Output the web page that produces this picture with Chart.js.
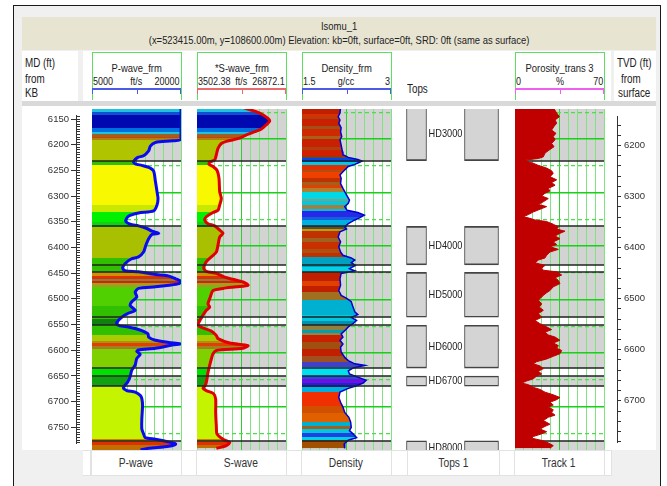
<!DOCTYPE html>
<html><head><meta charset="utf-8">
<script src="https://cdn.jsdelivr.net/npm/chart.js@4.4.1/dist/chart.umd.min.js"></script>
<style>
html,body{margin:0;padding:0;background:#fff;}
body{width:667px;height:486px;position:relative;overflow:hidden;font-family:'Liberation Sans',Arial,sans-serif;color:#222;}
.a{position:absolute;}
.t{position:absolute;white-space:nowrap;}
.t span{display:inline-block;transform:scaleX(0.82);}
canvas{position:absolute;}
</style></head><body>
<div class="a" style="left:13px;top:5px;width:646px;height:490px;border:1px solid #1a1a1a;background:#f0f0f0"></div>
<div class="a" style="left:22px;top:17px;width:634px;height:33px;background:#e8e4d2"></div>
<div class="a" style="left:22px;top:51px;width:56px;height:50px;background:#fff"></div>
<div class="a" style="left:83px;top:51px;width:528px;height:50px;background:#fff"></div>
<div class="a" style="left:614px;top:51px;width:42px;height:50px;background:#fff"></div>
<div class="a" style="left:22px;top:101px;width:634px;height:5px;background:#d9d9d9"></div>
<div class="a" style="left:22px;top:106px;width:634px;height:344px;background:#fff"></div>
<div class="a" style="left:83px;top:450px;width:529px;height:26px;background:#e2e2e2"></div>
<script>
// ---------- data ----------
const depthMin = 6143.5, depthMax = 6781.2;

const wellName = 'Isomu_1';
const wellInfo = '(x=523415.00m, y=108600.00m) Elevation: kb=0ft, surface=0ft, SRD: 0ft (same as surface)';

const topsNames = ['HD3000','HD4000','HD5000','HD6000','HD6700','HD8000'];
const topsTop   = [6140, 6363, 6449, 6548, 6643, 6764];
const topsBase  = [6240, 6435, 6533, 6628, 6662, 6790];

const trackTitles    = ['P-wave_frm','*S-wave_frm','Density_frm','Porosity_trans 3'];
const trackUnits     = ['ft/s','ft/s','g/cc','%'];
const trackMinLabels = ['5000','3502.38','1.5','0'];
const trackMaxLabels = ['20000','26872.1','3','70'];
const trackMin = [5000, 3502.38, 1.5, 0];
const trackMax = [20000, 26872.1, 3, 70];
const footerNames = ['P-wave','S-wave','Density','Tops 1','Track 1'];

const pwDepth = [6141,6143,6200,6203,6206,6213,6222,6231,6234,6242,
  6246,6249,6254,6260,6279,6298,6311,6323,6334,6338,
  6344,6353,6359,6362,6367,6372,6376,6378,6386,6398,
  6411,6420,6424,6433,6441,6446,6448,6453,6456,6461,
  6466,6470,6473,6476,6479,6486,6495,6504,6511,6520,
  6526,6533,6539,6545,6549,6551,6554,6558,6564,6570,
  6576,6580,6583,6585,6591,6594,6597,6602,6610,6622,
  6632,6644,6654,6665,6670,6673,6679,6685,6698,6723,
  6742,6751,6758,6761,6767,6770,6774,6778,6781];
const pwValue = [15900,20000,20000,18520,15690,14830,14550,13690,12720,11990,
  12280,13400,14830,15400,15690,15960,16130,15960,15400,12840,
  11140,10680,11430,12840,14260,15110,16250,15110,14550,14090,
  13690,12840,11600,10570,10160,10570,12840,15690,17950,19100,
  20000,19660,17950,15690,12840,12280,12550,11700,11430,12280,
  11020,10000,9430,9140,9720,11140,12280,13400,14430,14550,
  15690,17950,20000,18520,15690,12840,12550,13130,12550,12280,
  11700,11430,11020,10280,10850,12280,13130,13400,13520,13400,
  13400,13690,13980,15690,18240,19100,17950,14550,13180];

const swDepth = [6141,6151,6161,6166,6173,6181,6186,6192,6198,6204,
  6208,6217,6229,6239,6243,6247,6251,6258,6273,6298,
  6311,6323,6333,6337,6345,6351,6358,6362,6370,6376,
  6383,6398,6411,6420,6429,6441,6447,6451,6458,6462,
  6467,6473,6476,6479,6483,6495,6508,6514,6520,6529,
  6542,6548,6553,6559,6567,6573,6581,6586,6591,6595,
  6601,6611,6623,6636,6648,6659,6666,6670,6676,6686,
  6711,6736,6751,6761,6767,6773,6778];
const swValue = [15581,19957,22146,22583,21708,20396,18645,16457,14706,11205,
  9892,9016,8579,8141,6828,6653,7704,8754,9279,9454,
  9892,9454,9016,7704,5953,5515,6391,8141,9454,10330,
  9454,9016,8579,7266,5953,5253,5953,8579,10767,12955,
  15581,16894,13830,10330,7704,7003,6391,6828,5953,5078,
  4028,3765,5078,7266,8579,9016,12080,16894,15581,8579,
  7704,7266,6828,6391,6128,5778,5078,5953,7879,8404,
  8404,8579,8754,10330,12080,11205,8579];

const rhoDepth = [6141,6151,6158,6164,6170,6179,6186,6195,6201,6211,
  6223,6229,6234,6238,6241,6243,6247,6251,6261,6267,
  6273,6283,6292,6298,6304,6314,6320,6326,6333,6337,
  6342,6347,6351,6358,6364,6368,6373,6383,6392,6401,
  6411,6417,6422,6426,6431,6436,6442,6446,6451,6461,
  6473,6483,6492,6498,6504,6514,6523,6528,6533,6539,
  6545,6551,6558,6564,6570,6576,6583,6589,6598,6608,
  6614,6620,6623,6628,6633,6639,6645,6651,6656,6661,
  6666,6673,6683,6692,6701,6711,6720,6729,6739,6745,
  6751,6758,6763,6770,6778];
const rhoValue = [2.15,2.14,2.11,2.14,2.12,2.16,2.15,2.17,2.14,2.16,
  2.18,2.19,2.28,2.44,2.51,2.47,2.39,2.28,2.19,2.14,
  2.16,2.15,2.19,2.22,2.25,2.30,2.28,2.22,2.26,2.44,
  2.55,2.47,2.39,2.28,2.22,2.25,2.14,2.11,2.15,2.12,
  2.15,2.19,2.33,2.39,2.33,2.40,2.30,2.39,2.16,2.14,
  2.15,2.12,2.16,2.26,2.33,2.36,2.39,2.44,2.33,2.42,
  2.36,2.28,2.22,2.16,2.19,2.14,2.19,2.15,2.16,2.22,
  2.28,2.39,2.56,2.36,2.28,2.30,2.44,2.58,2.53,2.42,
  2.28,2.14,2.12,2.15,2.19,2.22,2.29,2.32,2.33,2.30,
  2.36,2.42,2.28,2.21,2.22];

const phiDepth = [6141,6151,6158,6164,6170,6176,6183,6189,6195,6201,
  6208,6214,6220,6226,6233,6236,6239,6242,6245,6249,
  6254,6259,6264,6270,6276,6281,6286,6292,6297,6301,
  6306,6311,6317,6322,6326,6331,6336,6341,6345,6348,
  6351,6354,6359,6364,6368,6372,6376,6381,6386,6392,
  6397,6401,6406,6411,6417,6422,6426,6431,6436,6441,
  6445,6448,6454,6459,6464,6470,6476,6483,6487,6492,
  6497,6501,6508,6514,6520,6526,6533,6539,6545,6551,
  6556,6561,6566,6570,6576,6581,6586,6591,6595,6601,
  6606,6611,6616,6620,6624,6629,6634,6639,6643,6648,
  6652,6656,6659,6664,6668,6673,6678,6683,6687,6692,
  6697,6701,6706,6711,6716,6720,6726,6733,6737,6742,
  6747,6751,6756,6759,6764,6768,6773,6778];
const phiValue = [30.1,32.8,34.9,31.5,32.8,30.7,28.8,32.2,30.1,31.5,
  28.8,30.7,27.0,23.6,22.3,18.4,7.9,10.5,14.4,18.4,
  24.9,28.8,30.1,27.5,32.8,28.8,31.5,26.2,27.5,23.6,
  21.0,26.2,22.3,18.4,24.9,19.7,14.4,10.5,6.6,11.8,
  15.7,24.9,30.1,34.1,32.8,39.3,35.4,31.5,35.4,30.1,
  32.8,27.5,34.1,27.5,24.9,23.6,18.4,15.7,23.6,21.0,
  22.3,32.8,36.7,31.5,34.1,35.4,30.1,27.5,24.9,22.3,
  20.2,18.4,21.0,19.1,22.3,18.4,21.0,15.7,19.7,24.9,
  28.8,23.6,26.2,31.5,35.4,30.1,34.1,32.8,36.7,35.4,
  30.1,24.9,17.0,14.4,19.7,22.3,18.4,21.0,17.0,14.4,
  9.2,5.2,10.5,14.4,19.7,23.6,30.1,35.4,32.8,27.5,
  30.1,26.2,30.1,28.8,31.5,26.2,22.3,27.5,23.6,19.7,
  24.9,21.0,14.4,13.1,22.3,26.2,30.1,27.5];

// colour-fill logs (depth of band top, colour)
const elasticColourTop = [6140,6149,6154,6179,6186,6191,6195,6198,6201,6241,
  6248,6323,6336,6354,6364,6423,6449,6456,6461,6466,
  6469,6476,6511,6536,6548,6567,6578,6581,6586,6592,
  6629,6645,6662,6761,6767,6772];
const elasticColour = ['#20c0e0','#1050d0','#0008b0','#0070e0','#20c0e0','#a06020','#d04000','#b08010','#b0c400','#30c000',
  '#f8f800','#c8e800','#00f000','#10d010','#a8c000','#30c000','#d09000','#e03000','#808040','#e02000',
  '#a0a020','#50d000','#30c000','#108010','#30c000','#a8cc00','#b09010','#e04000','#a08020','#80d000',
  '#00e000','#10a010','#c4f400','#d08000','#e03000','#c07000'];
const densityColourTop = [6140,6152,6158,6163,6175,6180,6194,6199,6214,6220,
  6232,6236,6243,6249,6258,6262,6272,6280,6285,6292,
  6299,6311,6316,6323,6330,6334,6346,6351,6362,6368,
  6371,6385,6392,6405,6412,6420,6439,6449,6465,6475,
  6486,6501,6529,6540,6548,6556,6562,6567,6580,6592,
  6605,6617,6626,6642,6648,6656,6664,6673,6698,6712,
  6729,6737,6742,6750,6757,6762];
const densityColour = ['#c02000','#d83000','#b04010','#c82000','#a05018','#d02800','#a86018','#c82000','#b04010','#d02000',
  '#804020','#0048e8','#00c8e8','#e03000','#b05010','#f04000','#c03000','#a06020','#e04000','#b08030',
  '#00d8e8','#80a080','#00c8e0','#a08040','#00c0e0','#2828e8','#1060e0','#00b0e0','#505040','#c0a000',
  '#c03000','#a06020','#c83000','#b05010','#c03000','#00a0c0','#00d0e8','#c02000','#e04000','#c02000',
  '#a07020','#00b0d0','#00c8e0','#0090b0','#908040','#00a0b0','#a08040','#c82000','#a05010','#c02000',
  '#a05020','#4040c8','#00e0f0','#2050e0','#7010e0','#2020e0','#00b0e0','#f03000','#d05000','#e06000',
  '#00b0d0','#a06020','#00c8e0','#2040e0','#00d0e8','#a05000'];

// ---------- layout / style ----------
const FONT = "'Liberation Sans',Arial,sans-serif";
Chart.defaults.font.family = FONT;
Chart.defaults.color = '#333';
const trackLeft = [92, 197, 302, 515];
const TW = 89;
const barColors = ['#4b5be6', '#e86a6a', '#4b5be6', '#f060f0'];

function el(cls, style, text, align) {
  const d = document.createElement('div');
  d.className = cls; d.style.cssText = style;
  if (text != null) {
    const s = document.createElement('span');
    s.textContent = text;
    s.style.transformOrigin = align === 'center' ? '50% 50%' : (align === 'right' ? '100% 50%' : '0 50%');
    d.style.textAlign = align || 'left';
    d.appendChild(s);
  }
  document.body.appendChild(d); return d;
}
function mkCanvas(left, top, w, h) {
  const c = document.createElement('canvas');
  c.width = w; c.height = h;
  c.style.left = left + 'px'; c.style.top = top + 'px';
  c.style.width = w + 'px'; c.style.height = h + 'px';
  document.body.appendChild(c); return c;
}

// title band
el('t', 'left:22px;width:634px;top:19px;line-height:14px;font-size:11.5px', wellName, 'center');
el('t', 'left:22px;width:634px;top:33px;line-height:14px;font-size:11.5px', wellInfo, 'center');
// side header boxes
[['MD (ft)', 25, 56], ['from', 25, 72], ['KB', 25, 86], ['TVD (ft)', 617, 56], ['from', 621, 72], ['surface', 618, 86], ['Tops', 407, 82]]
  .forEach(([s, x, y]) => el('t', `left:${x}px;top:${y}px;line-height:14px;font-size:12px`, s, 'left'));

// header boxes
trackTitles.forEach((title, k) => {
  const L = trackLeft[k];
  el('a', `left:${L}px;top:52px;width:${TW-1}px;height:47px;border:1px solid #5fdf5f;border-bottom:none;background:#fff`);
  el('t', `left:${L}px;width:${TW}px;top:61px;line-height:14px;font-size:11.5px`, title, 'center');
  el('t', `left:${L+1}px;top:75px;line-height:13px;font-size:11px`, trackMinLabels[k], 'left');
  el('t', `left:${L}px;width:${TW}px;top:75px;line-height:13px;font-size:11px`, trackUnits[k], 'center');
  el('t', `left:${L}px;width:${TW-1}px;top:75px;line-height:13px;font-size:11px`, trackMaxLabels[k], 'right');
  el('a', `left:${L}px;top:88px;width:${TW}px;height:2px;background:${barColors[k]}`);
  [0, Math.round(TW/2), TW-1].forEach(dx => el('a', `left:${L+dx}px;top:89px;width:1px;height:5px;background:${barColors[k]}`));
});
// footer boxes
[[83,90],[92,181],[182,196],[197,286],[287,301],[302,391],[392,407],[408,499],[500,514],[515,604],[605,611]]
  .forEach(([a,b]) => el('a', `left:${a}px;top:451px;width:${b-a}px;height:24px;background:#fff`));
const footerCenters = [136, 241, 346, 453, 559];
footerNames.forEach((n, i) => el('t', `left:${footerCenters[i]-50}px;width:100px;top:456px;line-height:14px;font-size:12.5px;color:#333`, n, 'center'));

// ---------- helpers ----------
function bandGradient(chart, tops, colours) {
  const {ctx, chartArea, scales} = chart;
  if (!chartArea || !scales.y) return colours[0];
  const y = scales.y, y0 = chartArea.top, y1 = chartArea.bottom;
  const g = ctx.createLinearGradient(0, y0, 0, y1);
  const frac = d => Math.min(1, Math.max(0, (y.getPixelForValue(d) - y0) / (y1 - y0)));
  for (let i = 0; i < tops.length; i++) {
    const a = frac(tops[i]);
    const b = frac(i + 1 < tops.length ? tops[i + 1] : depthMax + 10);
    g.addColorStop(a, colours[i]); g.addColorStop(b, colours[i]);
  }
  return g;
}
function withClip(chart, fn) {
  const {ctx, chartArea: a} = chart;
  ctx.save(); ctx.beginPath(); ctx.rect(a.left, a.top, a.width, a.height); ctx.clip();
  fn(ctx, a); ctx.restore();
}
function drawBands(chart) {
  withClip(chart, (ctx, a) => {
    const y = chart.scales.y;
    ctx.fillStyle = '#d3d3d3';
    topsTop.forEach((t, i) => {
      const p0 = y.getPixelForValue(t), p1 = y.getPixelForValue(topsBase[i]);
      ctx.fillRect(a.left, p0, a.width, p1 - p0);
    });
  });
}
function drawBoundaries(chart) {
  withClip(chart, (ctx, a) => {
    const y = chart.scales.y;
    ctx.strokeStyle = '#222'; ctx.lineWidth = 1.6;
    topsTop.concat(topsBase).forEach(d => {
      const p = Math.round(y.getPixelForValue(d));
      if (p <= a.top || p >= a.bottom) return;
      ctx.beginPath(); ctx.moveTo(a.left, p); ctx.lineTo(a.right, p); ctx.stroke();
    });
  });
}
const decor = (linesOnTop) => ({
  id: 'decor',
  beforeDraw: chart => drawBands(chart),
  beforeDatasetsDraw: chart => { if (!linesOnTop) drawBoundaries(chart); },
  afterDatasetsDraw: chart => { if (linesOnTop) drawBoundaries(chart); }
});
const depthScale = (extra) => Object.assign({
  type: 'linear', reverse: true, min: depthMin, max: depthMax
}, extra);

// ---------- log tracks ----------
function makeTrack(k, depth, values, line, fillColour, linesOnTop) {
  const cv = mkCanvas(trackLeft[k] - 1, 108, TW + 2, 343);
  return new Chart(cv, {
    type: 'line',
    data: { datasets: [{
      data: depth.map((d, i) => ({x: values[i], y: d})),
      borderColor: line.color, borderWidth: line.width, tension: line.tension,
      pointRadius: 0, fill: {value: trackMin[k]},
      backgroundColor: fillColour
    }]},
    options: {
      indexAxis: 'y', responsive: false, animation: false, events: [],
      layout: {padding: {left: 1, right: 1, top: 1, bottom: 1}},
      plugins: {legend: {display: false}, tooltip: {enabled: false}},
      scales: {
        x: {type: 'linear', min: trackMin[k], max: trackMax[k],
          afterBuildTicks: s => { const t = []; for (let j = 0; j <= 10; j++) t.push({value: s.min + (s.max - s.min) * j / 10}); s.ticks = t; },
          ticks: {display: false},
          grid: {drawTicks: false, lineWidth: 1, color: c => c.index === 5 ? '#2ccf2c' : '#7fe37f'},
          border: {display: false}},
        y: depthScale({
          afterBuildTicks: s => { const t = []; for (let v = Math.ceil(s.min / 50) * 50; v <= s.max; v += 50) t.push({value: v}); s.ticks = t; },
          ticks: {display: false, autoSkip: false},
          grid: {drawTicks: false,
            color: c => c.tick && c.tick.value % 100 === 0 ? '#18d018' : '#4cdc4c',
            lineWidth: c => c.tick && c.tick.value % 100 === 0 ? 1.6 : 1.2},
          border: {display: false, dash: c => (c.tick && c.tick.value % 100 !== 0) ? [4, 3] : []}
        })
      }
    },
    plugins: [decor(linesOnTop)]
  });
}

// tops track (floating bars)
(function () {
  const cv = mkCanvas(384, 108, 130, 343);
  new Chart(cv, {
    type: 'bar',
    data: {
      labels: ['L', 'R'],
      datasets: [
        {data: topsTop.map((t, i) => ({x: 'L', y: [t, topsBase[i]]})), barThickness: 20},
        {data: topsTop.map((t, i) => ({x: 'R', y: [t, topsBase[i]]})), barThickness: 34}
      ].map(d => Object.assign(d, {grouped: false, backgroundColor: '#d4d4d4', borderColor: '#444',
        borderWidth: {top: 1.6, bottom: 1.6, left: 1, right: 1}, borderSkipped: false, clip: 0}))
    },
    options: {
      responsive: false, animation: false, events: [],
      layout: {padding: {top: 1, bottom: 1}},
      plugins: {legend: {display: false}, tooltip: {enabled: false}},
      scales: {
        x: {type: 'category', display: false, offset: true},
        y: depthScale({display: false})
      }
    },
    plugins: [{
      id: 'topsLabels',
      afterDatasetsDraw(chart) {
        const mL = chart.getDatasetMeta(0), mR = chart.getDatasetMeta(1);
        withClip(chart, ctx => {
          ctx.fillStyle = '#222'; ctx.font = '11.5px ' + FONT;
          ctx.textAlign = 'center'; ctx.textBaseline = 'middle';
          topsNames.forEach((n, i) => {
            const l = mL.data[i], r = mR.data[i];
            const x = ((l.x + l.width / 2) + (r.x - r.width / 2)) / 2;
            ctx.save(); ctx.translate(x, (l.y + l.base) / 2); ctx.scale(0.8, 1);
            ctx.fillText(n, 0, 0); ctx.restore();
          });
        });
      }
    }]
  });
})();

makeTrack(0, pwDepth, pwValue, {color: '#0a0af0', width: 3, tension: 0.25},
  c => bandGradient(c.chart, elasticColourTop, elasticColour), true);
makeTrack(1, swDepth, swValue, {color: '#e00000', width: 3, tension: 0.25},
  c => bandGradient(c.chart, elasticColourTop, elasticColour), true);
makeTrack(2, rhoDepth, rhoValue, {color: '#0000d0', width: 1.5, tension: 0},
  c => bandGradient(c.chart, densityColourTop, densityColour), true);
makeTrack(3, phiDepth, phiValue, {color: '#c00000', width: 1, tension: 0}, '#c00000', false);

// MD axis
new Chart(mkCanvas(20, 108, 60, 343), {
  type: 'scatter', data: {datasets: []},
  options: {
    responsive: false, animation: false, events: [],
    layout: {padding: {top: 1, bottom: 1}},
    plugins: {legend: {display: false}, tooltip: {enabled: false}},
    scales: {
      x: {type: 'linear', display: false, min: 0, max: 1},
      y: depthScale({position: 'left',
        afterBuildTicks: s => { const t = []; for (let v = Math.ceil(s.min / 5) * 5; v <= s.max; v += 5) t.push({value: v}); s.ticks = t; },
        afterFit: s => { s.width = 56; },
        ticks: {autoSkip: false, padding: 2, color: '#333', font: {size: 9.5},
          callback: v => v % 50 === 0 ? String(v) : ''},
        grid: {drawOnChartArea: true, color: '#333', lineWidth: 1, tickLength: 5,
          tickColor: c => c.tick && c.tick.value % 50 === 0 ? '#333' : 'rgba(0,0,0,0)'},
        border: {display: true, color: '#333', width: 1}})
    }
  }
});

// TVD axis
new Chart(mkCanvas(613, 108, 47, 343), {
  type: 'scatter', data: {datasets: []},
  options: {
    responsive: false, animation: false, events: [],
    layout: {padding: {top: 1, bottom: 1}},
    plugins: {legend: {display: false}, tooltip: {enabled: false}},
    scales: {
      x: {type: 'linear', display: false, min: 0, max: 1},
      y: depthScale({position: 'right',
        afterBuildTicks: s => { const t = []; for (let v = Math.ceil(s.min / 20) * 20; v <= s.max; v += 20) t.push({value: v}); s.ticks = t; },
        afterFit: s => { s.width = 43; },
        ticks: {autoSkip: false, padding: 3, color: '#333', font: {size: 9.5},
          callback: v => v % 100 === 0 ? String(v) : ''},
        grid: {drawOnChartArea: false, tickLength: 4, tickColor: '#333'},
        border: {display: true, color: '#333', width: 1}})
    }
  }
});
</script>
</body></html>
